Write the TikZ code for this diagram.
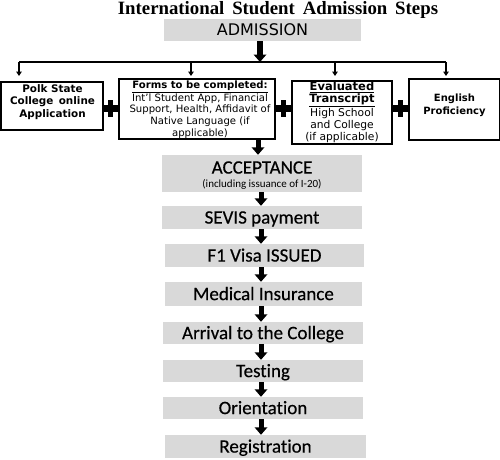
\documentclass[tikz,border=0pt]{standalone}
\usepackage{fontspec}
\setmainfont{DejaVu Sans}
\newfontfamily\carlito[Ligatures=NoCommon, FakeBold=0.4, BoldFont=Carlito]{Carlito}
\newfontfamily\carlitolight[Ligatures=NoCommon]{Carlito}
\newfontfamily\timesf{Liberation Serif}
\usetikzlibrary{arrows.meta}
\definecolor{stepgray}{HTML}{D9D9D9}
\newcommand{\evalhead}{\fontsize{11.5}{13.3}\selectfont\bfseries}
\begin{document}
\begin{tikzpicture}[x=1pt,y=-1pt,
  stepbox/.style={fill=stepgray, inner sep=0pt, text height=12.2pt, text depth=0pt,
    font=\carlito\bfseries\fontsize{19}{21}\selectfont},
  topbox/.style={draw, line width=1.2pt, inner sep=0pt},
  boxtext/.style={align=center, inner sep=0pt, font=\fontsize{10}{12.3}\selectfont},
  bigarrow/.style={line width=5pt, -{Triangle[width=12.5pt,length=7.5pt]}},
  smallarrow/.style={line width=1.2pt, -{Triangle[width=5.5pt,length=4.5pt]}},
  plusbar/.style={fill=black}
]
\useasboundingbox (0,0) rectangle (500,459);
% title
\node[anchor=base, inner sep=0pt, font=\timesf\bfseries\fontsize{18.8}{22}\selectfont] (title) at (278,14.5) {International\, Student\, Admission\, Steps};
% admission
\node[fill=stepgray, inner sep=0pt, minimum width=197pt, minimum height=22pt, text height=11.7pt, text depth=0pt,
  font=\fontsize{16}{18}\selectfont] (adm) at (262.5,30) {ADMISSION};
% branch
\coordinate (br) at (260,62);
\coordinate (bl) at (19,62);
\coordinate (bra) at (446,62);
\coordinate (d1) at (19,76);
\coordinate (d2) at (191,76);
\coordinate (d3) at (335,76);
\coordinate (d4) at (446,76);
\draw[line width=1.2pt] (bl) -- (bra);
\draw[smallarrow] (bl) -- (d1);
\draw[smallarrow] (d2 |- bl) -- (d2);
\draw[smallarrow] (d3 |- bl) -- (d3);
\draw[smallarrow] (bra) -- (d4);
\draw[bigarrow, line width=6pt] (adm.south -| br) -- (br);
% top boxes
\node[topbox, minimum width=102pt, minimum height=48pt] (polk) at (52,106) {};
\node[topbox, minimum width=156pt, minimum height=60pt] (forms) at (197,109) {};
\node[topbox, minimum width=100pt, minimum height=63pt] (eval) at (342,112.5) {};
\node[topbox, minimum width=91pt, minimum height=61pt] (engl) at (454.5,109.5) {};
\node[boxtext, font=\bfseries\fontsize{10.4}{12.6}\selectfont] (polkt) at (52.5,102) {Polk State\\College\, online\\Application};
\node[boxtext, font=\fontsize{10.1}{11.6}\selectfont] (formst) at (200,109.5) {\underline{\textbf{Forms to be completed:}}\\Int’l Student App, Financial\\Support, Health, Affidavit of\\Native Language (if\\applicable)};
\node[boxtext, font=\fontsize{10.7}{12.2}\selectfont] (evalt) at (342,112.5) {{\evalhead\underline{Evaluated}}\\{\evalhead\underline{Transcript}}\\High School\\and College\\(if applicable)};
\node[boxtext, font=\bfseries\fontsize{10}{12.8}\selectfont] (englt) at (454.5,105.5) {English\\Proficiency};
% plus signs
\foreach \cx/\nm in {110/p1, 283.5/p2, 400/p3}{
  \coordinate (\nm) at (\cx,108.5);
  \fill[plusbar] ([shift={(-7.5,-3.5)}]\nm) rectangle ([shift={(7.5,3.5)}]\nm);
  \fill[plusbar] ([shift={(-2.5,-8.5)}]\nm) rectangle ([shift={(2.5,8.5)}]\nm);
}
% steps
\node[fill=stepgray, inner sep=0pt, minimum width=200pt, minimum height=37pt] (acc) at (262,173.5) {};
\node[inner sep=0pt, text height=12.2pt, text depth=0pt, font=\carlito\bfseries\fontsize{19}{21}\selectfont] (acct) at (262,167.5) {ACCEPTANCE};
\node[inner sep=0pt, font=\carlitolight\fontsize{11}{13}\selectfont] (accs) at (262,184.5) {(including issuance of I-20)};
\node[stepbox, minimum width=200pt, minimum height=23pt] (sevis) at (262,217.5) {SEVIS payment};
\node[stepbox, minimum width=199pt, minimum height=23pt] (f1) at (264.5,255.5) {F1 Visa ISSUED};
\node[stepbox, minimum width=197pt, minimum height=24pt] (med) at (263.5,294) {Medical Insurance};
\node[stepbox, minimum width=200pt, minimum height=22pt] (arr) at (263,333) {Arrival to the College};
\node[stepbox, minimum width=200pt, minimum height=22pt] (test) at (263,371) {Testing};
\node[stepbox, minimum width=200pt, minimum height=22pt] (orient) at (263,408) {Orientation};
\node[stepbox, minimum width=201pt, minimum height=23pt] (reg) at (265.5,446.5) {Registration};
% arrows
\coordinate (ax) at (261,0);
\coordinate (fx) at (258,0);
\draw[bigarrow] (forms.south -| fx) -- (acc.north -| fx);
\draw[bigarrow] (acc.south -| ax) -- (sevis.north -| ax);
\draw[bigarrow] (sevis.south -| ax) -- (f1.north -| ax);
\draw[bigarrow] (f1.south -| ax) -- (med.north -| ax);
\draw[bigarrow] (med.south -| ax) -- (arr.north -| ax);
\draw[bigarrow] (arr.south -| ax) -- (test.north -| ax);
\draw[bigarrow] (test.south -| ax) -- (orient.north -| ax);
\draw[bigarrow] (orient.south -| ax) -- (reg.north -| ax);
\end{tikzpicture}
\end{document}
